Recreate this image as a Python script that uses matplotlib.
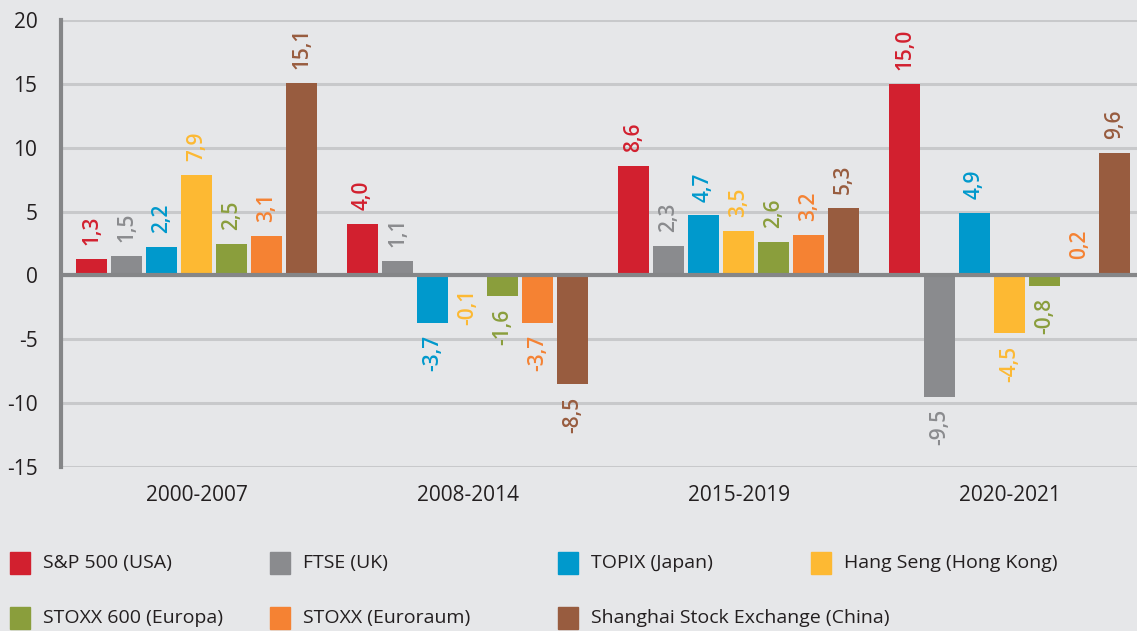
import matplotlib
matplotlib.use("Agg")
import matplotlib.pyplot as plt
from matplotlib.patches import Rectangle
import numpy as np

plt.rcParams['font.family'] = ['Open Sans', 'DejaVu Sans']

periods = ["2000-2007", "2008-2014", "2015-2019", "2020-2021"]
series = ["S&P 500 (USA)", "FTSE (UK)", "TOPIX (Japan)", "Hang Seng (Hong Kong)",
          "STOXX 600 (Europa)", "STOXX (Euroraum)", "Shanghai Stock Exchange (China)"]
sp500 = [1.3, 4.0, 8.6, 15.0]
ftse = [1.5, 1.1, 2.3, -9.5]
topix = [2.2, -3.7, 4.7, 4.9]
hangseng = [7.9, -0.1, 3.5, -4.5]
stoxx600 = [2.5, -1.6, 2.6, -0.8]
stoxx = [3.1, -3.7, 3.2, 0.2]
shanghai = [15.1, -8.5, 5.3, 9.6]
values = [sp500, ftse, topix, hangseng, stoxx600, stoxx, shanghai]
colors = ["#d2202f", "#8a8b8e", "#0099cc", "#fdb933", "#8a9e3c", "#f58233", "#985c3f"]
yticks = [-15, -10, -5, 0, 5, 10, 15, 20]

bg = "#e6e7e9"
W, H = 1137, 631
fig = plt.figure(figsize=(W / 100, H / 100), dpi=100, facecolor=bg)
ax = fig.add_axes([61 / W, 1 - 467 / H, 1 - 61 / W, (467 - 20) / H])
ax.set_facecolor(bg)

pitch = 35 / 271
bw = 31 / 271
x = np.arange(len(periods))
for i, (vals, c) in enumerate(zip(values, colors)):
    xs = x + (i - 3) * pitch
    ax.bar(xs, vals, width=bw, color=c, zorder=2)
    for xx, v in zip(xs, vals):
        lab = f"{v:.1f}".replace(".", ",")
        if v >= 0:
            ax.annotate(lab, (xx, v), xytext=(0, 10), textcoords="offset points",
                        rotation=90, ha="center", va="bottom", color=c,
                        fontsize=15, fontweight="semibold")
        else:
            ax.annotate(lab, (xx, v), xytext=(0, -9), textcoords="offset points",
                        rotation=90, ha="center", va="top", color=c,
                        fontsize=15, fontweight="semibold")

ax.set_xlim(-0.5, 3.47)
ax.set_ylim(-15, 20)
ax.set_yticks(yticks)
ax.set_yticklabels([str(t) for t in yticks])
ax.set_xticks(x)
ax.set_xticklabels(periods)
ax.tick_params(axis="y", length=0, pad=17, labelsize=15, labelcolor="#231f20")
ax.tick_params(axis="x", length=0, pad=13, labelsize=15, labelcolor="#231f20")
ax.grid(axis="y", color="#c8c9cb", linewidth=2.2, zorder=0)
ax.set_axisbelow(True)
for s in ["top", "right", "bottom"]:
    ax.spines[s].set_visible(False)
ax.spines["left"].set_color("#858688")
ax.spines["left"].set_linewidth(3)
ax.axhline(0, color="#858688", linewidth=3, zorder=3)

# legend
col_x = [10, 270, 558, 811]
row_y = [563, 618]
sq = 20
for k, (name, c) in enumerate(zip(series, colors)):
    r, cidx = divmod(k, 4)
    x0 = col_x[cidx]
    yc = row_y[r]
    fig.patches.append(Rectangle((x0 / W, 1 - (yc + sq / 2 + 1) / H), sq / W, (sq + 2) / H,
                                 transform=fig.transFigure, color=c))
    fig.text((x0 + 33) / W, 1 - yc / H, name, fontsize=14, va="center", ha="left",
             color="#231f20")

fig.savefig("out.png", dpi=100, facecolor=bg)
